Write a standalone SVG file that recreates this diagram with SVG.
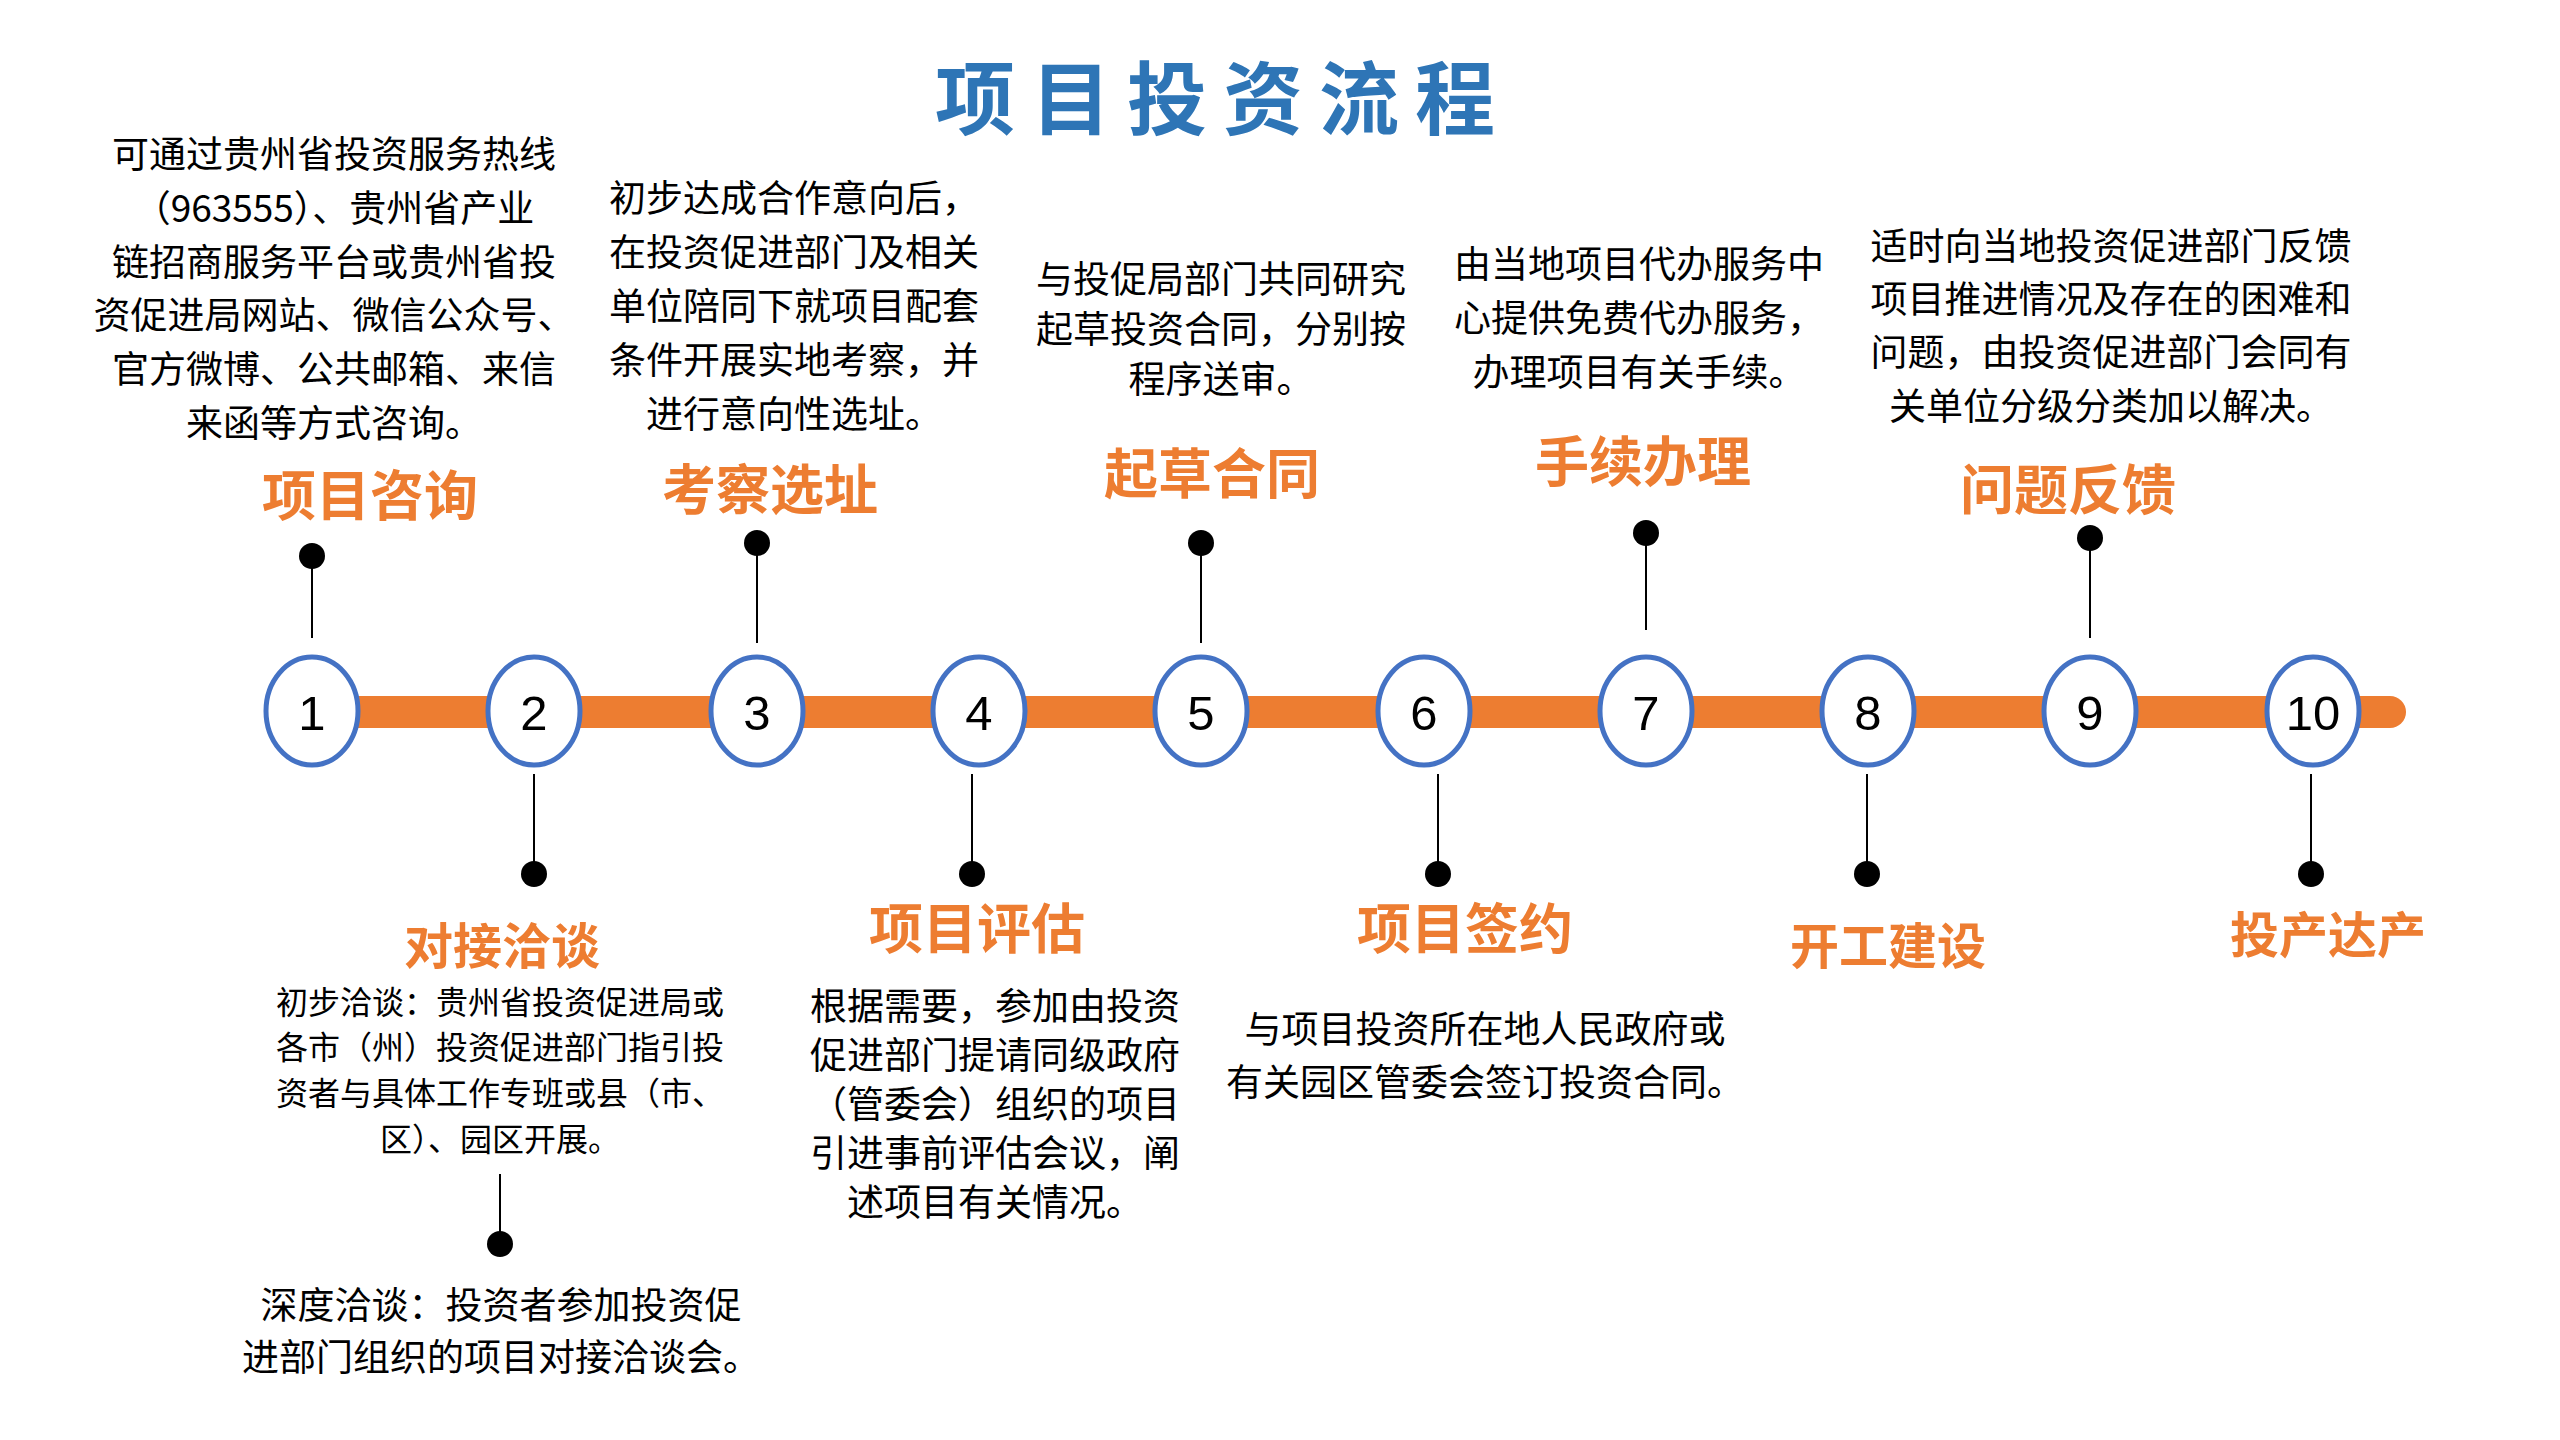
<svg xmlns="http://www.w3.org/2000/svg" width="2560" height="1440" viewBox="0 0 2560 1440">
<style>
.bg{fill:#ffffff}
.bar{fill:#ED7D31}
.ring{fill:#ffffff;stroke:#4472C4;stroke-width:5}
.num{font-family:"Liberation Sans","Noto Sans",sans-serif;font-size:49px;fill:#000000;text-anchor:middle}
.ttl{font-family:"Noto Sans CJK SC","Noto Sans",sans-serif;font-weight:700;font-size:54px;fill:#ED7D31;text-anchor:middle}
.ttl.s{font-size:49px}
.txt{font-family:"Noto Sans CJK SC","Noto Sans",sans-serif;font-size:37px;fill:#000000;text-anchor:middle}
.txt.s{font-size:32px}
.main{font-family:"Noto Sans CJK SC","Noto Sans",sans-serif;font-weight:700;font-size:80px;fill:#2E75B6;text-anchor:middle}
.stem{stroke:#000000;stroke-width:2;fill:none}
.dot{fill:#000000}
</style>
<rect class="bg" x="0" y="0" width="2560" height="1440"/>
<g id="title">
<text class="main" x="975 1071 1167 1263 1359 1455" y="128">项目投资流程</text>
</g>
<g id="connectors">
<rect class="bar" x="311" y="696" width="2095" height="32" rx="16" ry="16"/>
<line class="stem" x1="312" y1="556" x2="312" y2="638"/><circle class="dot" cx="312" cy="556" r="13"/>
<line class="stem" x1="757" y1="543" x2="757" y2="643"/><circle class="dot" cx="757" cy="543" r="13"/>
<line class="stem" x1="1201" y1="543" x2="1201" y2="643"/><circle class="dot" cx="1201" cy="543" r="13"/>
<line class="stem" x1="1646" y1="533" x2="1646" y2="630"/><circle class="dot" cx="1646" cy="533" r="13"/>
<line class="stem" x1="2090" y1="538" x2="2090" y2="638"/><circle class="dot" cx="2090" cy="538" r="13"/>
<line class="stem" x1="534" y1="774" x2="534" y2="874"/><circle class="dot" cx="534" cy="874" r="13"/>
<line class="stem" x1="972" y1="774" x2="972" y2="874"/><circle class="dot" cx="972" cy="874" r="13"/>
<line class="stem" x1="1438" y1="774" x2="1438" y2="874"/><circle class="dot" cx="1438" cy="874" r="13"/>
<line class="stem" x1="1867" y1="774" x2="1867" y2="874"/><circle class="dot" cx="1867" cy="874" r="13"/>
<line class="stem" x1="2311" y1="774" x2="2311" y2="874"/><circle class="dot" cx="2311" cy="874" r="13"/>
<line class="stem" x1="500" y1="1174" x2="500" y2="1244"/><circle class="dot" cx="500" cy="1244" r="13"/>
</g>
<g id="node1">
<ellipse class="ring" cx="312" cy="711" rx="46" ry="54"/>
<text class="num" x="312" y="730">1</text>
<text class="ttl" x="370" y="516">项目咨询</text>
<text class="txt" x="334" y="168">可通过贵州省投资服务热线</text>
<text class="txt" x="334" y="222">（963555）、贵州省产业</text>
<text class="txt" x="334" y="276">链招商服务平台或贵州省投</text>
<text class="txt" x="334" y="329">资促进局网站、微信公众号、</text>
<text class="txt" x="334" y="383">官方微博、公共邮箱、来信</text>
<text class="txt" x="334" y="437">来函等方式咨询。</text>
</g>
<g id="node2">
<ellipse class="ring" cx="534" cy="711" rx="46" ry="54"/>
<text class="num" x="534" y="730">2</text>
<text class="ttl s" x="502" y="964">对接洽谈</text>
<text class="txt s" x="500" y="1014">初步洽谈：贵州省投资促进局或</text>
<text class="txt s" x="500" y="1059">各市（州）投资促进部门指引投</text>
<text class="txt s" x="500" y="1105">资者与具体工作专班或县（市、</text>
<text class="txt s" x="500" y="1151">区）、园区开展。</text>
<text class="txt" x="501" y="1319">深度洽谈：投资者参加投资促</text>
<text class="txt" x="501" y="1371">进部门组织的项目对接洽谈会。</text>
</g>
<g id="node3">
<ellipse class="ring" cx="757" cy="711" rx="46" ry="54"/>
<text class="num" x="757" y="730">3</text>
<text class="ttl" x="770" y="510">考察选址</text>
<text class="txt" x="794" y="212">初步达成合作意向后，</text>
<text class="txt" x="794" y="266">在投资促进部门及相关</text>
<text class="txt" x="794" y="320">单位陪同下就项目配套</text>
<text class="txt" x="794" y="374">条件开展实地考察，并</text>
<text class="txt" x="794" y="428">进行意向性选址。</text>
</g>
<g id="node4">
<ellipse class="ring" cx="979" cy="711" rx="46" ry="54"/>
<text class="num" x="979" y="730">4</text>
<text class="ttl" x="977" y="949">项目评估</text>
<text class="txt" x="995" y="1020">根据需要，参加由投资</text>
<text class="txt" x="995" y="1069">促进部门提请同级政府</text>
<text class="txt" x="995" y="1118">（管委会）组织的项目</text>
<text class="txt" x="995" y="1167">引进事前评估会议，阐</text>
<text class="txt" x="995" y="1216">述项目有关情况。</text>
</g>
<g id="node5">
<ellipse class="ring" cx="1201" cy="711" rx="46" ry="54"/>
<text class="num" x="1201" y="730">5</text>
<text class="ttl" x="1212" y="494">起草合同</text>
<text class="txt" x="1221" y="293">与投促局部门共同研究</text>
<text class="txt" x="1221" y="343">起草投资合同，分别按</text>
<text class="txt" x="1221" y="393">程序送审。</text>
</g>
<g id="node6">
<ellipse class="ring" cx="1424" cy="711" rx="46" ry="54"/>
<text class="num" x="1424" y="730">6</text>
<text class="ttl" x="1465" y="949">项目签约</text>
<text class="txt" x="1485" y="1043">与项目投资所在地人民政府或</text>
<text class="txt" x="1485" y="1096">有关园区管委会签订投资合同。</text>
</g>
<g id="node7">
<ellipse class="ring" cx="1646" cy="711" rx="46" ry="54"/>
<text class="num" x="1646" y="730">7</text>
<text class="ttl" x="1643" y="482">手续办理</text>
<text class="txt" x="1639" y="278">由当地项目代办服务中</text>
<text class="txt" x="1639" y="332">心提供免费代办服务，</text>
<text class="txt" x="1639" y="386">办理项目有关手续。</text>
</g>
<g id="node8">
<ellipse class="ring" cx="1868" cy="711" rx="46" ry="54"/>
<text class="num" x="1868" y="730">8</text>
<text class="ttl s" x="1888" y="964">开工建设</text>
</g>
<g id="node9">
<ellipse class="ring" cx="2090" cy="711" rx="46" ry="54"/>
<text class="num" x="2090" y="730">9</text>
<text class="ttl" x="2068" y="510">问题反馈</text>
<text class="txt" x="2111" y="260">适时向当地投资促进部门反馈</text>
<text class="txt" x="2111" y="313">项目推进情况及存在的困难和</text>
<text class="txt" x="2111" y="366">问题，由投资促进部门会同有</text>
<text class="txt" x="2111" y="420">关单位分级分类加以解决。</text>
</g>
<g id="node10">
<ellipse class="ring" cx="2313" cy="711" rx="46" ry="54"/>
<text class="num" x="2313" y="730">10</text>
<text class="ttl s" x="2328" y="953">投产达产</text>
</g>
</svg>
